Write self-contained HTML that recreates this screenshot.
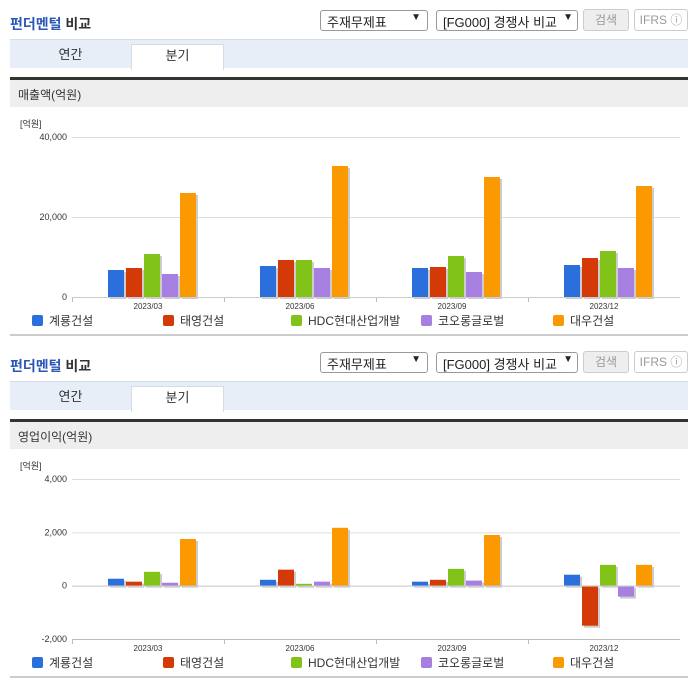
<!DOCTYPE html>
<html><head><meta charset="utf-8"><style>
body{margin:0;width:696px;height:684px;background:#fff;font-family:"Liberation Sans","Noto Sans CJK KR",sans-serif;position:relative;overflow:hidden}
.abs{position:absolute}
.title{left:10px;font-size:14px;font-weight:bold;color:#333}
.title span{color:#2a56b8}
.sel{height:21px;border:1px solid #999;border-radius:3px;font-size:13px;color:#222;box-sizing:border-box;padding:1px 6px;background:#fff}
.btn{height:22px;border:1px solid #ccc;border-radius:3px;font-size:12px;color:#999;box-sizing:border-box;text-align:center;line-height:20px;background:#eee}
.tabs{left:10px;width:678px;height:28px;background:#e8eef8;border-top:1px solid #d4dce8}
.tab{top:4px;height:25px;font-size:13px;text-align:center;line-height:22px;color:#333}
.hdr{left:10px;width:678px;height:30px;background:#eee;border-top:3px solid #333;font-size:12px;color:#333;line-height:30px;text-indent:8px;box-sizing:border-box}
svg text{font-family:"Liberation Sans","Noto Sans CJK KR",sans-serif}
</style></head><body>
<div id="p1"></div>
<div id="p2"></div>
<script>
const categories=["2023/03","2023/06","2023/09","2023/12"];
const seriesNames=["계룡건설","태영건설","HDC현대산업개발","코오롱글로벌","대우건설"];
const colors=["#2a6fdb","#d43a08","#82c31a","#a77fe0","#fb9a00"];
const revenue1=[6750,7750,7250,8000];
const revenue2=[7250,9250,7500,9750];
const revenue3=[10750,9250,10250,11500];
const revenue4=[5750,7250,6250,7250];
const revenue5=[26000,32750,30000,27750];
const profit1=[260,220,150,410];
const profit2=[150,600,220,-1500];
const profit3=[520,70,630,780];
const profit4=[110,150,190,-410];
const profit5=[1750,2170,1900,780];
const revTicks=[0,20000,40000];
const revTickLabels=["0","20,000","40,000"];
const profTicks=[-2000,0,2000,4000];
const profTickLabels=["-2,000","0","2,000","4,000"];

function panel(el,top,label,series,ticks,tlabels,ymin,ymax,yTop,yBot){
  el.innerHTML=`
  <div class="abs title" style="top:${top+14}px"><span>펀더멘털</span> 비교</div>
  <div class="abs sel" style="left:320px;top:${top+10}px;width:108px">주재무제표<span style="position:absolute;right:6px;font-size:10px">▼</span></div>
  <div class="abs sel" style="left:436px;top:${top+10}px;width:142px">[FG000] 경쟁사 비교<span style="position:absolute;right:4px;font-size:10px">▼</span></div>
  <div class="abs btn" style="left:583px;top:${top+9}px;width:46px">검색</div>
  <div class="abs btn" style="left:634px;top:${top+9}px;width:54px;background:#fff">IFRS ⓘ</div>
  <div class="abs tabs" style="top:${top+39}px">
    <div class="abs tab" style="left:0;width:121px">연간</div>
    <div class="abs tab" style="left:121px;width:91px;background:#fff;border:1px solid #d4dce8;border-bottom:none">분기</div>
  </div>
  <div class="abs hdr" style="top:${top+77}px">${label}</div>`;
  const ns="http://www.w3.org/2000/svg";
  const svg=document.createElementNS(ns,"svg");
  
  
  svg.setAttribute("width",696);svg.setAttribute("height",240);
  svg.style.position="absolute";svg.style.left="0";svg.style.top=(top+110)+"px";
  el.appendChild(svg);
  const off=top+110;
  const x0=72,x1=680;
  const y=v=>yBot-(v-ymin)/(ymax-ymin)*(yBot-yTop)-off;
  const mk=(t,a)=>{const e=document.createElementNS(ns,t);for(const k in a)e.setAttribute(k,a[k]);svg.appendChild(e);return e;};
  let e=mk("text",{x:20,y:yTop-10-off,"font-size":9,fill:"#333"});e.textContent="[억원]";
  
  
  ticks.forEach((t,i)=>{
    const l=mk("line",{x1:x0,x2:x1,y1:y(t)+.5,y2:y(t)+.5,stroke:"#ddd"});
    
    
    const tx=mk("text",{x:x0-5,y:y(t)+3,"font-size":9,fill:"#333","text-anchor":"end"});tx.textContent=tlabels[i];
    
    
  });
  const ab=y(ymin);
  mk("line",{x1:x0,x2:x1,y1:ab+.5,y2:ab+.5,stroke:"#bbb"});
  const gw=(x1-x0)/categories.length;
  categories.forEach((c,i)=>{
    mk("line",{x1:x0+gw*i+.5,x2:x0+gw*i+.5,y1:ab,y2:ab+5,stroke:"#bbb"});
    const tx=mk("text",{x:x0+gw*(i+.5),y:ab+12,"font-size":8,fill:"#333","text-anchor":"middle"});tx.textContent=c;
    
    
    series.forEach((s,j)=>{
      const bx=x0+gw*(i+.5)-40+18*j, v=s[i];
      const ya=y(Math.max(v,0)), yb=y(Math.min(v,0));
      mk("rect",{x:bx+2,y:ya+2,width:16,height:Math.max(yb-ya,1),fill:"#ccc"});
      const r=mk("rect",{x:bx,y:ya,width:16,height:Math.max(yb-ya,1),fill:colors[j]});
      
      
    });
  });
  mk("line",{x1:x0,x2:x1,y1:y(0)+.5,y2:y(0)+.5,stroke:"#ccc"});
  const lx=[32,163,291,421,553];
  seriesNames.forEach((n,j)=>{
    const ly=ab+28;
    const r=mk("rect",{x:lx[j],y:ly-10,width:11,height:11,rx:2,fill:colors[j]});
    
    
    const t=mk("text",{x:lx[j]+17,y:ly,"font-size":12,fill:"#333"});t.textContent=n;
    
    
  });
  mk("rect",{x:10,y:ab+37,width:678,height:2,fill:"#ccc"});
}
panel(document.getElementById('p1'),0,"매출액(억원)",[revenue1,revenue2,revenue3,revenue4,revenue5],revTicks,revTickLabels,0,40000,137,297);
panel(document.getElementById('p2'),342,"영업이익(억원)",[profit1,profit2,profit3,profit4,profit5],profTicks,profTickLabels,-2000,4000,479,639);
</script>
</body></html>
